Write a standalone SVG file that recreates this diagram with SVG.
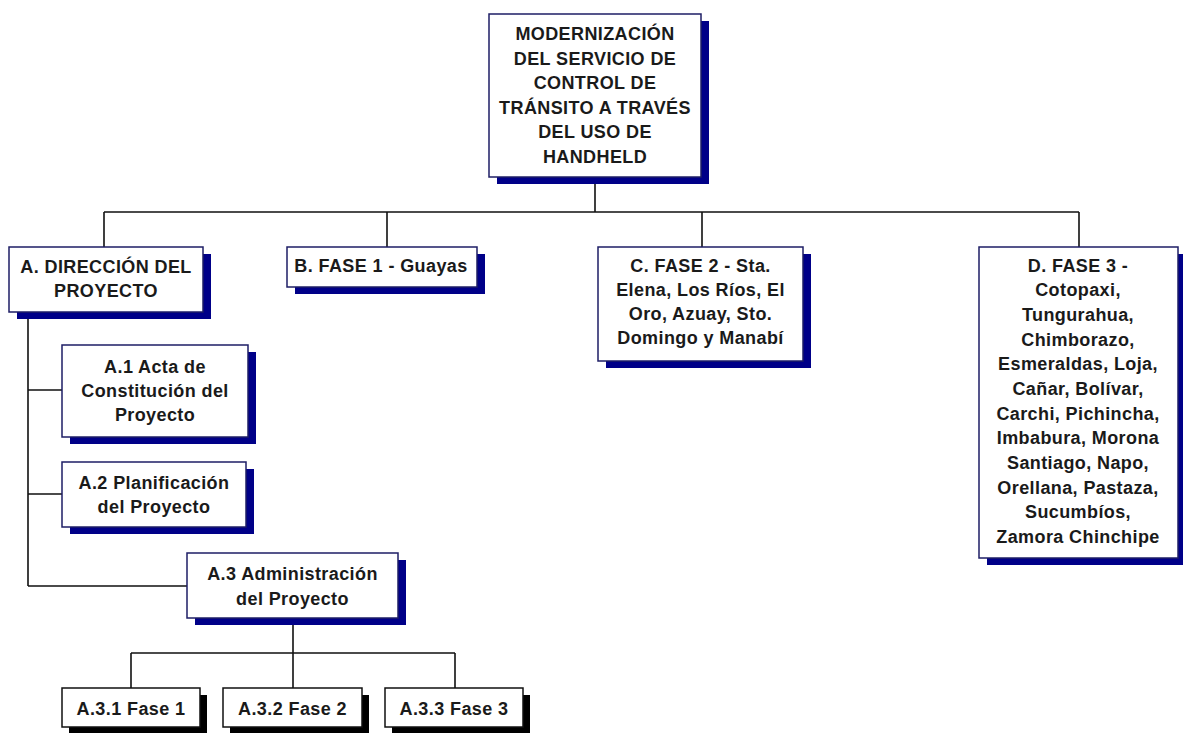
<svg xmlns="http://www.w3.org/2000/svg" width="1183" height="733" viewBox="0 0 1183 733">
  <style>
    .box { fill: #ffffff; stroke: #1e1e66; stroke-width: 1.5; }
    .shadow { fill: #000088; }
    .box-k { fill: #ffffff; stroke: #111111; stroke-width: 1.5; }
    .shadow-k { fill: #000000; }
    .lbl { font-family: "Liberation Sans", Arial, sans-serif; font-weight: bold; font-size: 18px; letter-spacing: 0.4px; fill: #1a1a1a; text-anchor: middle; }
    .wire { stroke: #111111; stroke-width: 1.6; fill: none; }
  </style>
  <rect x="0" y="0" width="1183" height="733" fill="#ffffff"/>

  <g id="connectors">
    <path class="wire" d="M595,177 V212 M104,212 H1079 M104,212 V247 M387,212 V247 M702,212 V247 M1079,212 V247"/>
    <path class="wire" d="M28,312 V586 M28,390 H62 M28,494 H62 M28,586 H187"/>
    <path class="wire" d="M293,618 V653 M131,653 H455 M131,653 V688 M293,653 V688 M455,653 V688"/>
  </g>

  <g id="root">
    <rect class="shadow" x="497" y="21" width="212" height="163"/>
    <rect class="box" x="489" y="14" width="212" height="163"/>
    <text class="lbl" x="595" y="40">MODERNIZACIÓN</text>
    <text class="lbl" x="595" y="64.5">DEL SERVICIO DE</text>
    <text class="lbl" x="595" y="89">CONTROL DE</text>
    <text class="lbl" x="595" y="113.5">TRÁNSITO A TRAVÉS</text>
    <text class="lbl" x="595" y="138">DEL USO DE</text>
    <text class="lbl" x="595" y="162.5">HANDHELD</text>
  </g>

  <g id="node-a">
    <rect class="shadow" x="17" y="254" width="194" height="65"/>
    <rect class="box" x="9" y="247" width="194" height="65"/>
    <text class="lbl" x="106" y="273">A. DIRECCIÓN DEL</text>
    <text class="lbl" x="106" y="297">PROYECTO</text>
  </g>

  <g id="node-b">
    <rect class="shadow" x="295" y="254" width="190" height="40"/>
    <rect class="box" x="287" y="247" width="190" height="40"/>
    <text class="lbl" x="381" y="272">B. FASE 1 - Guayas</text>
  </g>

  <g id="node-c">
    <rect class="shadow" x="606" y="254" width="205" height="114"/>
    <rect class="box" x="598" y="247" width="205" height="114"/>
    <text class="lbl" x="700.5" y="271.5">C. FASE 2 - Sta.</text>
    <text class="lbl" x="700.5" y="295.5">Elena, Los Ríos, El</text>
    <text class="lbl" x="700.5" y="319.5">Oro, Azuay, Sto.</text>
    <text class="lbl" x="700.5" y="343.5">Domingo y Manabí</text>
  </g>

  <g id="node-d">
    <rect class="shadow" x="987" y="254" width="199" height="311"/>
    <rect class="box" x="979" y="247" width="199" height="311"/>
    <text class="lbl" x="1078" y="271.7">D. FASE 3 -</text>
    <text class="lbl" x="1078" y="296.3">Cotopaxi,</text>
    <text class="lbl" x="1078" y="321">Tungurahua,</text>
    <text class="lbl" x="1078" y="345.7">Chimborazo,</text>
    <text class="lbl" x="1078" y="370.3">Esmeraldas, Loja,</text>
    <text class="lbl" x="1078" y="395">Cañar, Bolívar,</text>
    <text class="lbl" x="1078" y="419.7">Carchi, Pichincha,</text>
    <text class="lbl" x="1078" y="444.3">Imbabura, Morona</text>
    <text class="lbl" x="1078" y="469">Santiago, Napo,</text>
    <text class="lbl" x="1078" y="493.7">Orellana, Pastaza,</text>
    <text class="lbl" x="1078" y="518.3">Sucumbíos,</text>
    <text class="lbl" x="1078" y="543">Zamora Chinchipe</text>
  </g>

  <g id="node-a1">
    <rect class="shadow" x="70" y="352" width="186" height="92"/>
    <rect class="box" x="62" y="345" width="186" height="92"/>
    <text class="lbl" x="155" y="372.5">A.1 Acta de</text>
    <text class="lbl" x="155" y="396.5">Constitución del</text>
    <text class="lbl" x="155" y="420.5">Proyecto</text>
  </g>

  <g id="node-a2">
    <rect class="shadow" x="70" y="469" width="184" height="65"/>
    <rect class="box" x="62" y="462" width="184" height="65"/>
    <text class="lbl" x="154" y="488.5">A.2 Planificación</text>
    <text class="lbl" x="154" y="512.5">del Proyecto</text>
  </g>

  <g id="node-a3">
    <rect class="shadow" x="195" y="560" width="211" height="65"/>
    <rect class="box" x="187" y="553" width="211" height="65"/>
    <text class="lbl" x="292.5" y="580">A.3 Administración</text>
    <text class="lbl" x="292.5" y="604.5">del Proyecto</text>
  </g>

  <g id="node-a31">
    <rect class="shadow-k" x="69" y="695" width="138" height="40"/>
    <rect class="box-k" x="62" y="688" width="138" height="39"/>
    <text class="lbl" x="131" y="715">A.3.1 Fase 1</text>
  </g>

  <g id="node-a32">
    <rect class="shadow-k" x="230" y="695" width="139" height="40"/>
    <rect class="box-k" x="223" y="688" width="139" height="39"/>
    <text class="lbl" x="292.5" y="715">A.3.2 Fase 2</text>
  </g>

  <g id="node-a33">
    <rect class="shadow-k" x="392" y="695" width="138" height="40"/>
    <rect class="box-k" x="385" y="688" width="138" height="39"/>
    <text class="lbl" x="454" y="715">A.3.3 Fase 3</text>
  </g>
</svg>
